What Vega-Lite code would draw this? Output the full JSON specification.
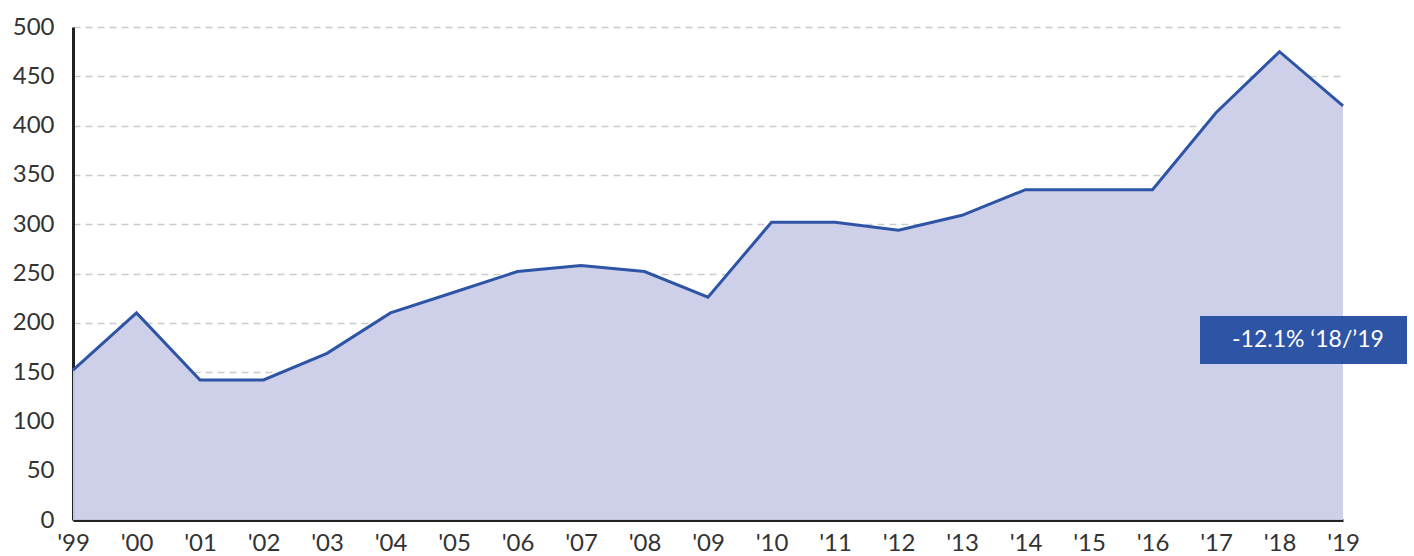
{
  "$schema": "https://vega.github.io/schema/vega-lite/v6.json",
  "width": 1270,
  "height": 493,
  "autosize": {"type": "none"},
  "padding": {"left": 73, "top": 27, "right": 71, "bottom": 36},
  "background": "white",
  "config": {
    "view": {"stroke": null},
    "font": "Lato"
  },
  "datasets": {
    "series": [
      {"year": "'99", "value": 152},
      {"year": "'00", "value": 210},
      {"year": "'01", "value": 142},
      {"year": "'02", "value": 142},
      {"year": "'03", "value": 169},
      {"year": "'04", "value": 210},
      {"year": "'05", "value": 231},
      {"year": "'06", "value": 252},
      {"year": "'07", "value": 258},
      {"year": "'08", "value": 252},
      {"year": "'09", "value": 226},
      {"year": "'10", "value": 302},
      {"year": "'11", "value": 302},
      {"year": "'12", "value": 294},
      {"year": "'13", "value": 309},
      {"year": "'14", "value": 335},
      {"year": "'15", "value": 335},
      {"year": "'16", "value": 335},
      {"year": "'17", "value": 413},
      {"year": "'18", "value": 475},
      {"year": "'19", "value": 420}
    ],
    "note": [
      {"year": "'19", "value": 182.5, "label": "-12.1% ‘18/’19"}
    ]
  },
  "encoding": {
    "x": {
      "field": "year",
      "type": "ordinal",
      "sort": null,
      "scale": {"type": "point", "padding": 0},
      "axis": {
        "title": null,
        "labelAngle": 0,
        "ticks": false,
        "domain": true,
        "domainColor": "#222222",
        "domainWidth": 3,
        "labelFontSize": 24,
        "labelColor": "#333333",
        "labelPadding": 11,
        "grid": false
      }
    },
    "y": {
      "field": "value",
      "type": "quantitative",
      "scale": {"domain": [0, 500], "nice": false},
      "axis": {
        "title": null,
        "values": [0, 50, 100, 150, 200, 250, 300, 350, 400, 450, 500],
        "ticks": false,
        "domain": true,
        "domainColor": "#222222",
        "domainWidth": 3,
        "labelFontSize": 24,
        "labelColor": "#333333",
        "labelPadding": 19,
        "grid": true,
        "gridColor": "#cccccc",
        "gridDash": [7, 5],
        "gridWidth": 1.5
      }
    }
  },
  "layer": [
    {
      "data": {"name": "series"},
      "mark": {"type": "area", "color": "#cbcde8", "opacity": 0.95}
    },
    {
      "data": {"name": "series"},
      "mark": {"type": "line", "color": "#2e54a5", "strokeWidth": 3}
    },
    {
      "data": {"name": "note"},
      "mark": {"type": "rect", "color": "#2e54a5", "width": 207, "height": 48, "xOffset": -39.5, "opacity": 1}
    },
    {
      "data": {"name": "note"},
      "mark": {"type": "text", "color": "white", "fontSize": 23, "align": "center", "baseline": "middle", "dx": -35},
      "encoding": {"text": {"field": "label"}}
    }
  ]
}
